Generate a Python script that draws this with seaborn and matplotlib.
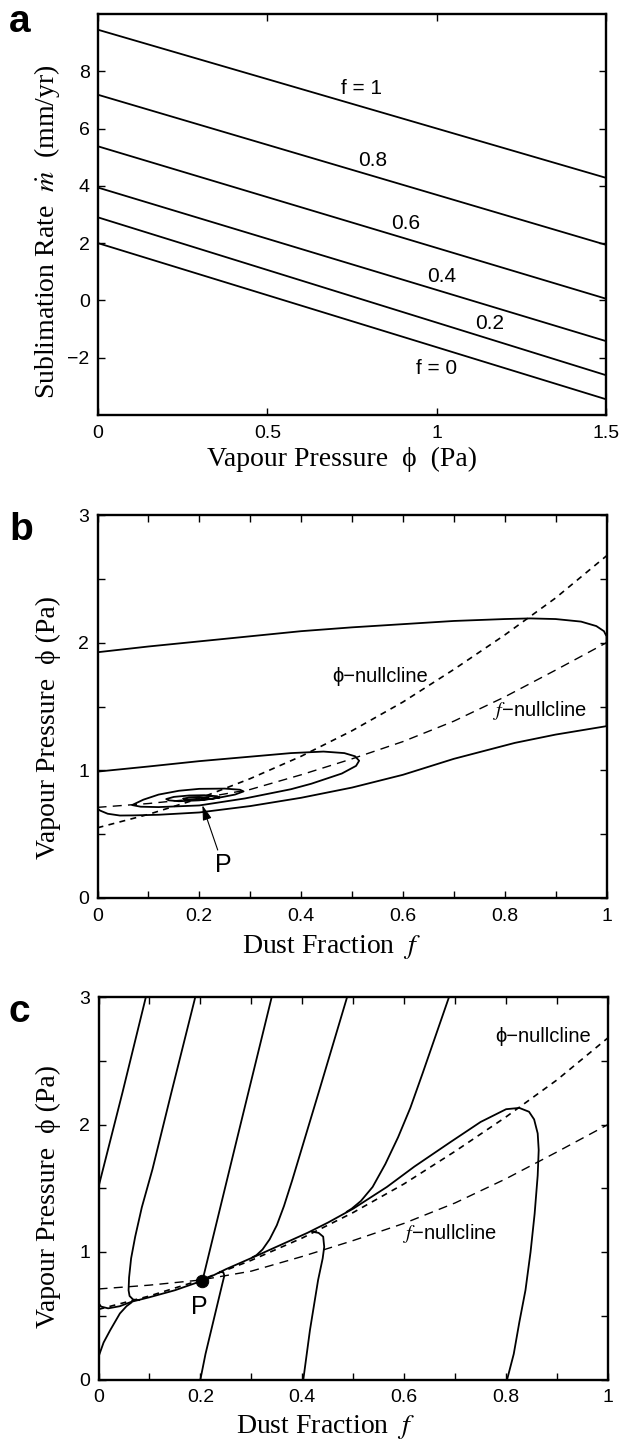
import numpy as np
import pandas as pd
import matplotlib
matplotlib.use("Agg")
import matplotlib.pyplot as plt
import seaborn as sns

# ---------------- panel a : sublimation rate vs vapour pressure ----------------
a_phi = [0.0, 1.5]
a_f_levels = [1.0, 0.8, 0.6, 0.4, 0.2, 0.0]
a_mdot_start = [9.45, 7.18, 5.38, 3.94, 2.90, 2.00]
a_mdot_end = [4.28, 1.94, 0.06, -1.42, -2.61, -3.45]
a_labels = ["f = 1", "0.8", "0.6", "0.4", "0.2", "f = 0"]
a_label_x = [0.777, 0.812, 0.908, 1.016, 1.156, 0.999]
a_label_y = [7.39, 4.87, 2.67, 0.84, -0.81, -2.38]

# ---------------- nullclines (panels b and c) ----------------
null_f = [0.0, 0.1, 0.2, 0.3, 0.4, 0.5, 0.6, 0.7, 0.8, 0.9, 1.0]
phi_nullcline = [0.55, 0.655, 0.78, 0.935, 1.11, 1.31, 1.535, 1.79, 2.06, 2.35, 2.68]
f_nullcline = [0.71, 0.74, 0.78, 0.85, 0.965, 1.09, 1.225, 1.385, 1.575, 1.785, 2.0]

# ---------------- panel b : spiralling trajectory ----------------
b_f = [0.0, 0.1, 0.2, 0.3, 0.4, 0.5, 0.6, 0.7, 0.8, 0.85, 0.9, 0.95, 0.98, 0.995, 1.0, 1.0,
       0.9, 0.82, 0.7, 0.6, 0.5, 0.4, 0.3, 0.2, 0.12, 0.07, 0.044, 0.02, 0.005, 0.0, 0.0,
       0.1, 0.2, 0.3, 0.38, 0.444, 0.485, 0.506, 0.514, 0.508, 0.48, 0.42, 0.38, 0.29, 0.2, 0.12, 0.085, 0.068,
       0.09, 0.12, 0.16, 0.2, 0.25, 0.28, 0.287, 0.27, 0.24, 0.2, 0.16, 0.14, 0.135,
       0.15, 0.18, 0.21, 0.235, 0.24, 0.225, 0.2, 0.175, 0.168, 0.18, 0.2, 0.218, 0.215, 0.204]
b_phi = [1.925, 1.97, 2.01, 2.05, 2.09, 2.12, 2.145, 2.17, 2.185, 2.19, 2.185, 2.165, 2.13, 2.09, 2.05, 1.346,
         1.28, 1.215, 1.09, 0.965, 0.865, 0.785, 0.72, 0.67, 0.652, 0.647, 0.646, 0.66, 0.685, 0.70, 0.99,
         1.03, 1.072, 1.107, 1.135, 1.147, 1.135, 1.11, 1.075, 1.035, 0.975, 0.895, 0.852, 0.78, 0.725, 0.712, 0.715, 0.728,
         0.77, 0.81, 0.84, 0.855, 0.857, 0.848, 0.835, 0.81, 0.787, 0.765, 0.758, 0.765, 0.775,
         0.792, 0.803, 0.805, 0.797, 0.788, 0.776, 0.768, 0.77, 0.778, 0.787, 0.79, 0.786, 0.779, 0.775]
b_P_label = (0.2465, 0.256)
b_P_tip = (0.206, 0.727)

# ---------------- panel c : trajectories onto the slow manifold ----------------
c1_f = [0.093, 0.047, 0.0, 0.0, 0.005, 0.019, 0.042, 0.065, 0.10, 0.15, 0.204]
c1_phi = [3.0, 2.25, 1.51, 0.60, 0.572, 0.558, 0.575, 0.61, 0.645, 0.70, 0.775]
c2_f = [0.19, 0.143, 0.106, 0.085, 0.072, 0.064, 0.060, 0.059, 0.061, 0.068, 0.08]
c2_phi = [3.0, 2.25, 1.65, 1.35, 1.12, 0.95, 0.80, 0.70, 0.655, 0.627, 0.622]
c3_f = [0.34, 0.272, 0.204]
c3_phi = [3.0, 1.89, 0.775]
c4_f = [0.488, 0.432, 0.38, 0.364, 0.35, 0.336, 0.322, 0.31, 0.302]
c4_phi = [3.0, 2.25, 1.56, 1.36, 1.21, 1.10, 1.02, 0.975, 0.958]
c5_f = [0.688, 0.662, 0.636, 0.612, 0.588, 0.563, 0.538, 0.515, 0.497, 0.487]
c5_phi = [3.0, 2.70, 2.40, 2.13, 1.90, 1.69, 1.51, 1.40, 1.34, 1.315]
c6_f = [0.802, 0.815, 0.826, 0.838, 0.848, 0.856, 0.862, 0.864, 0.862, 0.855, 0.845, 0.826,
        0.80, 0.75, 0.69, 0.62, 0.566, 0.50, 0.45, 0.41, 0.36, 0.31, 0.25, 0.204]
c6_phi = [0.0, 0.2, 0.45, 0.7, 1.0, 1.3, 1.6, 1.8, 1.93, 2.04, 2.10, 2.13,
          2.12, 2.02, 1.86, 1.67, 1.51, 1.34, 1.23, 1.15, 1.06, 0.97, 0.865, 0.775]
c7_f = [0.0, 0.01, 0.023, 0.042, 0.055, 0.065]
c7_phi = [0.178, 0.29, 0.387, 0.518, 0.575, 0.605]
c8_f = [0.2, 0.21, 0.222, 0.234, 0.243, 0.247, 0.245, 0.238]
c8_phi = [0.0, 0.2, 0.4, 0.6, 0.75, 0.815, 0.84, 0.845]
c9_f = [0.402, 0.415, 0.431, 0.44, 0.443, 0.441, 0.432, 0.418]
c9_phi = [0.0, 0.387, 0.78, 0.95, 1.04, 1.12, 1.15, 1.16]
c_P = (0.204, 0.775)
c_P_label = (0.198, 0.571)

# ---------------- style ----------------
sns.set_theme(style="ticks")
plt.rcParams.update({
    "font.family": ["Liberation Sans", "DejaVu Sans"],
    "mathtext.fontset": "stix",
    "axes.edgecolor": "black",
    "text.color": "black",
    "xtick.color": "black",
    "ytick.color": "black",
    "xtick.direction": "in",
    "ytick.direction": "in",
    "xtick.top": True,
    "ytick.right": True,
    "xtick.major.size": 5,
    "ytick.major.size": 5,
    "xtick.major.width": 1.0,
    "ytick.major.width": 1.0,
    "xtick.major.pad": 7,
    "ytick.major.pad": 6,
    "xtick.labelsize": 14,
    "ytick.labelsize": 14,
})

W, H = 619, 1443
SERIF = ["Liberation Serif", "DejaVu Serif"]
LW = 1.3


def rect(left, top, right, bottom):
    return [left / W, 1 - bottom / H, (right - left) / W, (bottom - top) / H]


def curve(ax, xs, ys, dashes=None, lw=LW):
    sns.lineplot(x=xs, y=ys, sort=False, estimator=None, color="black",
                 linewidth=lw, ax=ax, legend=False)
    line = ax.lines[-1]
    if dashes is not None:
        line.set_dashes(dashes)
    return line


def frame(ax):
    for s in ax.spines.values():
        s.set_linewidth(1.7)
        s.set_color("black")
        s.set_visible(True)


fig = plt.figure(figsize=(W / 100, H / 100), dpi=100)

# ---------------- a ----------------
ax_a = fig.add_axes(rect(98, 14, 606, 415))
rows = []
for lev, m0, m1 in zip(a_f_levels, a_mdot_start, a_mdot_end):
    rows.append({"phi": a_phi[0], "mdot": m0, "f": lev})
    rows.append({"phi": a_phi[1], "mdot": m1, "f": lev})
df_a = pd.DataFrame(rows)
sns.lineplot(data=df_a, x="phi", y="mdot", units="f", estimator=None,
             color="black", linewidth=LW, ax=ax_a, legend=False)
for txt, x, y in zip(a_labels, a_label_x, a_label_y):
    ax_a.text(x, y, txt, ha="center", va="center", fontsize=15)
ax_a.set_xlim(0, 1.5)
ax_a.set_ylim(-4, 10)
ax_a.set_xticks([0, 0.5, 1, 1.5])
ax_a.set_xticklabels(["0", "0.5", "1", "1.5"])
ax_a.set_yticks([-2, 0, 2, 4, 6, 8])
ax_a.set_xlabel("")
ax_a.set_ylabel("")
frame(ax_a)

# ---------------- b ----------------
ax_b = fig.add_axes(rect(97.5, 515, 606.5, 898))
curve(ax_b, null_f, phi_nullcline, dashes=(3.6, 3.2), lw=1.2)
curve(ax_b, null_f, f_nullcline, dashes=(6.5, 4.5), lw=1.0)
curve(ax_b, b_f, b_phi)
ax_b.annotate("P", xy=b_P_tip, xytext=b_P_label, ha="center", va="center", fontsize=18,
              arrowprops=dict(arrowstyle="-|>,head_length=0.5,head_width=0.15",
                              color="black", lw=0.8, shrinkA=0, shrinkB=0))
ax_b.text(0.461, 1.733, "\u03d5\u2212nullcline", ha="left", va="center", fontsize=14.5)
ax_b.text(0.777, 1.47, "$f$\u2212nullcline", ha="left", va="center", fontsize=14.5)

# ---------------- c ----------------
ax_c = fig.add_axes(rect(98.5, 997, 608, 1379.5))
curve(ax_c, null_f, phi_nullcline, dashes=(3.6, 3.2), lw=1.2)
curve(ax_c, null_f, f_nullcline, dashes=(6.5, 4.5), lw=1.0)
for xs, ys in [(c1_f, c1_phi), (c2_f, c2_phi), (c3_f, c3_phi), (c4_f, c4_phi),
               (c5_f, c5_phi), (c6_f, c6_phi), (c7_f, c7_phi), (c8_f, c8_phi),
               (c9_f, c9_phi)]:
    curve(ax_c, xs, ys)
sns.scatterplot(x=[c_P[0]], y=[c_P[1]], s=80, color="black", edgecolor="black",
                ax=ax_c, zorder=5, legend=False)
ax_c.text(c_P_label[0], c_P_label[1], "P", ha="center", va="center", fontsize=18)
ax_c.text(0.778, 2.69, "\u03d5\u2212nullcline", ha="left", va="center", fontsize=14.5)
ax_c.text(0.598, 1.147, "$f$\u2212nullcline", ha="left", va="center", fontsize=14.5)

for ax in (ax_b, ax_c):
    ax.set_xlim(0, 1)
    ax.set_ylim(0, 3)
    ax.set_xticks(np.linspace(0, 1, 11))
    ax.set_xticklabels(["0", "", "0.2", "", "0.4", "", "0.6", "", "0.8", "", "1"])
    ax.set_yticks([0, 0.5, 1, 1.5, 2, 2.5, 3])
    ax.set_yticklabels(["0", "", "1", "", "2", "", "3"])
    ax.set_xlabel("")
    ax.set_ylabel("")
    frame(ax)

# ---------------- axis titles and panel letters (figure pixels) ----------------
def ftext(x, y, s, **kw):
    fig.text(x / W, 1 - y / H, s, **kw)

ftext(342, 466, "Vapour Pressure  \u03d5  (Pa)", ha="center", va="baseline", fontsize=20, family=SERIF)
ftext(47, 232, "Sublimation Rate  $\\dot{m}$  (mm/yr)", ha="center", va="center",
      rotation=90, fontsize=20, family=SERIF)
ftext(332, 953, "Dust Fraction  $f$", ha="center", va="baseline", fontsize=20, family=SERIF)
ftext(48, 727, "Vapour Pressure  \u03d5 (Pa)", ha="center", va="center",
      rotation=90, fontsize=20, family=SERIF)
ftext(326, 1433, "Dust Fraction  $f$", ha="center", va="baseline", fontsize=20, family=SERIF)
ftext(48, 1196, "Vapour Pressure  \u03d5 (Pa)", ha="center", va="center",
      rotation=90, fontsize=20, family=SERIF)

ftext(9, 32, "a", ha="left", va="baseline", fontsize=28, fontweight="bold")
ftext(9, 540, "b", ha="left", va="baseline", fontsize=28, fontweight="bold")
ftext(9, 1022, "c", ha="left", va="baseline", fontsize=28, fontweight="bold")

fig.savefig("out.png", dpi=100, facecolor="white")
